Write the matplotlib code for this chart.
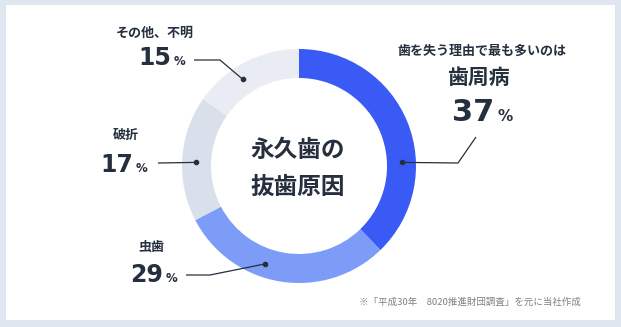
import numpy as np
import matplotlib.pyplot as plt
from matplotlib.patches import Rectangle

plt.rcParams['font.family'] = ['Noto Sans CJK JP', 'DejaVu Sans']

# Data (share of permanent-tooth extraction causes, %)
categories = ["歯周病", "虫歯", "破折", "その他、不明"]
values = [37, 29, 17, 15]
colors = ["#3a5af6", "#7c9cf8", "#d9e0ec", "#e9edf3"]

TEXT = "#262f3d"
W, H = 621, 327
CX, CY = 299, 166          # donut centre (pixels, y down)
R_OUT, RING = 117, 29


def main():
    fig = plt.figure(figsize=(W / 100, H / 100), dpi=100)
    fig.patch.set_facecolor("#e0e6f0")
    ax = fig.add_axes([0, 0, 1, 1])
    ax.patch.set_alpha(0)

    # y axis inverted, so counterclock=True reads clockwise on screen
    ax.pie(values, colors=colors, startangle=-90, counterclock=True,
           center=(CX, CY), radius=R_OUT,
           wedgeprops=dict(width=RING, linewidth=0))
    ax.set_xlim(0, W)
    ax.set_ylim(H, 0)
    ax.set_aspect("equal")
    ax.axis("off")
    ax.add_patch(Rectangle((6, 5), W - 12, H - 12, facecolor="white",
                           edgecolor="none", zorder=-5))

    # leader lines: dot angle (deg, clockwise from top) and elbow points
    r_mid = R_OUT - RING / 2 + 1
    leaders = [
        (88, [(458, 163), (476, 137)]),
        (199, [(210, 275), (186, 275)]),
        (272, [(158, 163)]),
        (327, [(220, 60), (194, 60)]),
    ]
    for ang, pts in leaders:
        t = np.radians(ang)
        dx, dy = CX + r_mid * np.sin(t), CY - r_mid * np.cos(t)
        xs = [dx] + [p[0] for p in pts]
        ys = [dy] + [p[1] for p in pts]
        ax.plot(xs, ys, color=TEXT, lw=0.9, solid_capstyle="butt", zorder=5)
        ax.plot(dx, dy, "o", color=TEXT, ms=3, zorder=6)

    # big percentages: (value, number right edge, baseline, size)
    pct = [(values[0], 494, 121, 22), (values[1], 163, 282, 17),
           (values[2], 133, 172, 17), (values[3], 171, 65, 17)]
    for v, x, y, fs in pct:
        ax.text(x, y, f"{v}", ha="right", va="baseline", fontsize=fs,
                fontweight="bold", color=TEXT, family="DejaVu Sans")
        ax.text(x + 3, y, "%", ha="left", va="baseline", fontsize=fs * 0.5,
                fontweight="bold", color=TEXT, family="DejaVu Sans")

    # category labels
    ax.text(482, 51, "歯を失う理由で最も多いのは", ha="center", va="center",
            fontsize=9.4, fontweight="bold", color=TEXT)
    ax.text(478, 77, categories[0], ha="center", va="center",
            fontsize=15, fontweight="bold", color=TEXT)
    ax.text(151, 247, categories[1], ha="center", va="center",
            fontsize=9.4, fontweight="bold", color=TEXT)
    ax.text(126, 135, categories[2], ha="center", va="center",
            fontsize=9.4, fontweight="bold", color=TEXT)
    ax.text(155, 33, categories[3], ha="center", va="center",
            fontsize=9.4, fontweight="bold", color=TEXT)

    # centre title
    ax.text(298, 150, "永久歯の", ha="center", va="center",
            fontsize=17, fontweight="bold", color=TEXT)
    ax.text(298, 187, "抜歯原因", ha="center", va="center",
            fontsize=17, fontweight="bold", color=TEXT)

    ax.text(581, 302, "※「平成30年　8020推進財団調査」を元に当社作成",
            ha="right", va="center", fontsize=6.8, color="#808080")

    fig.savefig("out.png", dpi=100, facecolor=fig.get_facecolor())


if __name__ == "__main__":
    main()
